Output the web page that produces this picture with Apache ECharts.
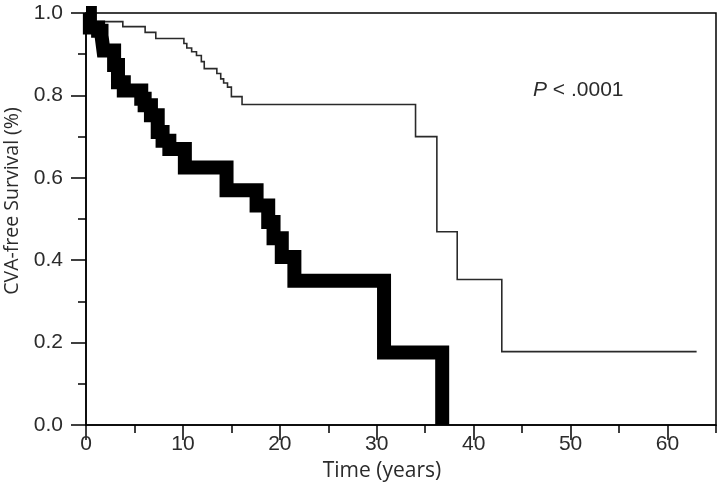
<!DOCTYPE html>
<html>
<head>
<meta charset="utf-8">
<script src="https://cdn.jsdelivr.net/npm/echarts@6/dist/echarts.min.js"></script>
<style>
html,body{margin:0;padding:0;background:#fff;}
#chart{width:720px;height:498px;}
</style>
</head>
<body>
<div id="chart"></div>
<script>
// Thin curve (group 1): event times (years) and survival after each event
var thinTime = [0, 1.0, 3.8, 6.1, 7.2, 10.1, 10.4, 10.9, 11.4, 11.9, 12.2, 13.5, 13.9, 14.2, 14.6, 15.0, 16.1, 34.0, 36.2, 38.3, 42.9, 63.0];
var thinSurv = [1.0, 0.979, 0.967, 0.953, 0.938, 0.926, 0.915, 0.906, 0.897, 0.882, 0.865, 0.853, 0.840, 0.830, 0.820, 0.797, 0.778, 0.700, 0.469, 0.353, 0.178, 0.178];
// Thick curve (group 2)
var thickTime = [0, 0.4, 1.25, 1.6, 1.8, 2.9, 3.3, 3.9, 5.7, 6.05, 6.7, 7.4, 7.9, 8.6, 10.2, 14.5, 17.6, 18.8, 19.35, 20.2, 21.5, 30.75, 36.75];
var thickSurv = [1.0, 0.965, 0.957, 0.945, 0.909, 0.874, 0.832, 0.812, 0.792, 0.776, 0.752, 0.711, 0.690, 0.670, 0.625, 0.570, 0.533, 0.493, 0.453, 0.408, 0.350, 0.176, 0.0];
// Axis ticks
var xMajor = [0, 10, 20, 30, 40, 50, 60];
var xMinor = [5, 15, 25, 35, 45, 55, 65];
var yMajor = [0, 0.2, 0.4, 0.6, 0.8, 1.0];
var yMinor = [0.1, 0.3, 0.5, 0.7, 0.9];

function zip(a, b) { return a.map(function (v, i) { return [v, b[i]]; }); }

var labelFont = 'Liberation Sans, Arial, sans-serif';
var titleFont = 'Open Sans, Liberation Sans, sans-serif';
var ink = '#2b2b2b';

var chart = echarts.init(document.getElementById('chart'), null, {renderer: 'canvas'});
chart.setOption({
  animation: false,
  backgroundColor: '#fff',
  grid: {left: 86, right: 4, top: 13, bottom: 73, containLabel: false, outerBoundsMode: 'none',
    show: true, borderColor: '#000', borderWidth: 1.5, backgroundColor: 'transparent'},
  xAxis: [{
    type: 'value', min: 0, max: 65, position: 'bottom',
    name: 'Time (years)', nameLocation: 'middle', nameGap: 36,
    nameTextStyle: {fontFamily: titleFont, fontSize: 21, color: ink, padding: [0, 38, 0, 0]},
    axisLine: {show: true, onZero: false, lineStyle: {color: '#000', width: 1.5}},
    axisTick: {show: true, length: 15, customValues: xMajor, lineStyle: {color: '#000', width: 1.5}},
    axisLabel: {show: true, customValues: xMajor, margin: 9, fontFamily: labelFont, fontSize: 21, color: ink},
    splitLine: {show: false}
  }, {
    type: 'value', min: 0, max: 65, position: 'bottom',
    axisLine: {show: false, onZero: false},
    axisTick: {show: true, length: 8, customValues: xMinor, lineStyle: {color: '#000', width: 1.5}},
    axisLabel: {show: false},
    splitLine: {show: false}
  }],
  yAxis: [{
    type: 'value', min: 0, max: 1, position: 'left',
    name: 'CVA-free Survival (%)', nameLocation: 'middle', nameGap: 62,
    nameTextStyle: {fontFamily: titleFont, fontSize: 19.5, color: ink, padding: [0, 0, 0, 36]},
    axisLine: {show: true, onZero: false, lineStyle: {color: '#000', width: 1.5}},
    axisTick: {show: true, length: 15, customValues: yMajor, lineStyle: {color: '#000', width: 1.5}},
    axisLabel: {show: true, customValues: yMajor, margin: 23, fontFamily: labelFont, fontSize: 21, color: ink,
      formatter: function (v) { return v.toFixed(1); }},
    splitLine: {show: false}
  }, {
    type: 'value', min: 0, max: 1, position: 'left',
    axisLine: {show: false, onZero: false},
    axisTick: {show: true, length: 8, customValues: yMinor, lineStyle: {color: '#000', width: 1.5}},
    axisLabel: {show: false},
    splitLine: {show: false}
  }],
  series: [{
    type: 'line', step: 'end', symbol: 'none', clip: true,
    data: zip(thinTime, thinSurv),
    lineStyle: {color: '#2a2a2a', width: 1.6, join: 'miter'},
    z: 2
  }, {
    type: 'line', step: 'end', symbol: 'none', clip: true,
    data: zip(thickTime, thickSurv),
    lineStyle: {color: '#000', width: 14, join: 'miter', cap: 'butt', miterLimit: 4},
    z: 3
  }],
  graphic: [{
    type: 'text', left: 533, top: 80,
    style: {
      text: '{i|P} < .0001',
      rich: {i: {fontStyle: 'italic', fontFamily: labelFont, fontSize: 21, fill: ink}},
      fontFamily: labelFont, fontSize: 21, fill: ink
    }
  }]
});
</script>
</body>
</html>
